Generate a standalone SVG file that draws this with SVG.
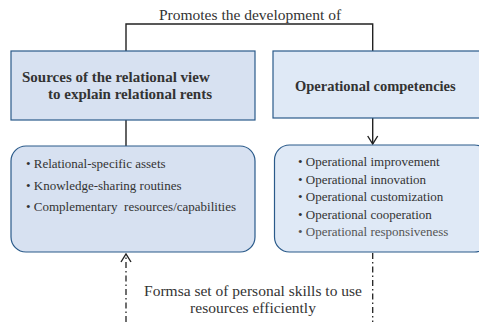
<svg xmlns="http://www.w3.org/2000/svg" width="479" height="322" viewBox="0 0 479 322">
<defs>
<marker id="open" markerWidth="10" markerHeight="12" refX="9" refY="6" orient="auto" markerUnits="userSpaceOnUse" viewBox="0 0 10 12">
<path d="M1,1 L9,6 L1,11" fill="none" stroke="#222" stroke-width="1.4"/>
</marker>
</defs>
<style>
text{font-family:"Liberation Serif","Times New Roman","DejaVu Serif",serif;fill:#333}
.t{font-size:15.5px}
.b{font-size:15px;font-weight:bold}
.s{font-size:13px}
.box1{fill:#d7e1f1;stroke:#2a5a8a;stroke-width:1.2}
.box2{fill:#dfe9f6;stroke:#2a5a8a;stroke-width:1.2}
.ln{fill:none;stroke:#222;stroke-width:1.4}
.dd{fill:none;stroke:#222;stroke-width:1.3;stroke-dasharray:6 3 1.5 3}
</style>
<g id="connectors">
<path class="ln" d="M126,51 V24 H372.7 V51"/>
<path class="ln" d="M126,120 V146"/>
<path class="ln" d="M372.7,118 V144" marker-end="url(#open)"/>
<path class="dd" d="M126,322 V254" marker-end="url(#open)"/>
<path class="dd" d="M372.7,253 V322"/>
</g>
<text class="t" x="250" y="20" text-anchor="middle">Promotes the development of</text>
<g id="sources">
<rect class="box1" x="11" y="51" width="244" height="69"/>
<text class="b" x="22" y="82">Sources of the relational view</text>
<text class="b" x="48" y="99">to explain relational rents</text>
</g>
<g id="competencies">
<rect class="box2" x="273" y="51" width="210" height="67"/>
<text class="b" x="295" y="91" style="font-size:14.5px">Operational competencies</text>
</g>
<g id="sources-list">
<rect class="box1" x="11" y="146" width="244" height="106" rx="15"/>
<text class="s" x="26" y="168">• Relational-specific assets</text>
<text class="s" x="26" y="190">• Knowledge-sharing routines</text>
<text class="s" x="26" y="211" xml:space="preserve">• Complementary  resources/capabilities</text>
</g>
<g id="competencies-list">
<rect class="box2" x="274.5" y="145" width="215" height="107" rx="15"/>
<text class="s" x="298" y="166">• Operational improvement</text>
<text class="s" x="298" y="183.5">• Operational innovation</text>
<text class="s" x="298" y="201">• Operational customization</text>
<text class="s" x="298" y="218.5">• Operational cooperation</text>
<text class="s" x="298" y="236" style="fill:#555">• Operational responsiveness</text>
</g>
<g id="skills-label">
<text class="t" x="253" y="296" text-anchor="middle">Formsa set of personal skills to use</text>
<text class="t" x="253" y="313" text-anchor="middle">resources efficiently</text>
</g>
</svg>
